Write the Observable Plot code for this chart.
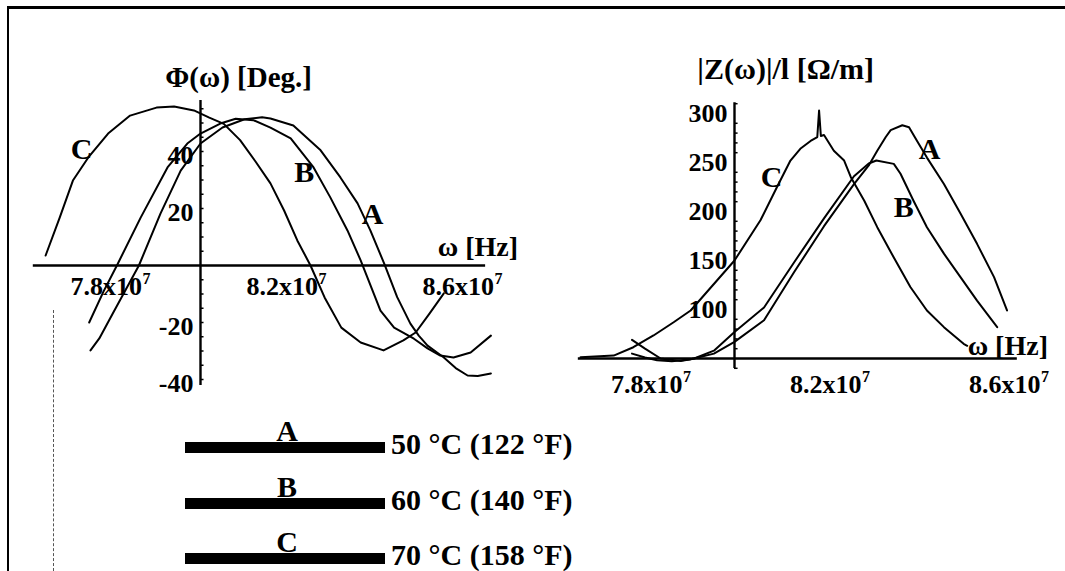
<!DOCTYPE html>
<html><head><meta charset="utf-8">
<script src="https://cdn.jsdelivr.net/npm/d3@7"></script>
<script src="https://cdn.jsdelivr.net/npm/@observablehq/plot@0.6"></script>
<style>
html,body{margin:0;padding:0;background:#fff;}
#fig{position:relative;width:1065px;height:571px;overflow:hidden;background:#fff;
  font-family:"Liberation Serif","Times New Roman",serif;font-weight:bold;color:#000;}
#fig svg{position:absolute;left:0;top:0;}
.rule{position:absolute;background:#000;}
.dots{position:absolute;border-left:1px dashed #555;}
.lg-bar{position:absolute;height:11px;background:#000;}
.lg-key{position:absolute;font-size:30px;line-height:1;text-align:center;width:40px;}
.lg-txt{position:absolute;font-size:30px;line-height:1;white-space:nowrap;}
</style></head>
<body><div id="fig">
<div class="rule" style="left:7px;top:6px;width:1058px;height:3px"></div>
<div class="rule" style="left:7px;top:6px;width:2px;height:565px"></div>
<div class="dots" style="left:53px;top:310px;height:261px"></div>
</div>
<script>
// ---------- Phase angle panel (left) ----------
const omegaPhiA = [7.750, 7.770, 7.800, 7.830, 7.860, 7.909, 7.955, 8.000, 8.050, 8.100, 8.140, 8.159, 8.211, 8.273, 8.318, 8.357, 8.386, 8.418, 8.447, 8.477, 8.496, 8.516, 8.553, 8.580, 8.607, 8.630, 8.660];
const phiA      = [-29.8, -25.6, -17.0, -8.5, 0.0, 18.2, 33.3, 42.8, 48.4, 51.3, 52.0, 51.6, 49.1, 40.4, 30.9, 21.8, 12.3, 0.5, -11.1, -20.4, -24.6, -28.1, -32.3, -36.0, -38.6, -38.8, -37.9];
const omegaPhiB = [7.747, 7.780, 7.810, 7.864, 7.925, 7.970, 8.000, 8.045, 8.080, 8.120, 8.159, 8.205, 8.257, 8.295, 8.334, 8.364, 8.409, 8.440, 8.485, 8.516, 8.545, 8.575, 8.614, 8.660];
const phiB      = [-20.0, -9.0, 0.0, 16.8, 34.4, 42.8, 46.3, 49.8, 51.5, 51.0, 48.4, 44.6, 34.4, 23.9, 12.3, 1.8, -15.8, -21.8, -25.7, -29.1, -31.6, -32.3, -30.5, -24.6];
const omegaPhiC = [7.648, 7.680, 7.710, 7.745, 7.790, 7.840, 7.900, 7.940, 7.985, 8.020, 8.053, 8.090, 8.125, 8.159, 8.190, 8.220, 8.250, 8.282, 8.320, 8.364, 8.416, 8.461, 8.489, 8.520, 8.553];
const phiC      = [3.5, 16.8, 29.8, 37.9, 46.3, 52.6, 55.4, 55.8, 54.4, 51.9, 49.7, 44.0, 36.5, 28.8, 19.3, 8.8, 0.0, -11.2, -21.8, -27.0, -29.8, -26.3, -23.5, -17.0, -9.8];
const phiTicks = [-40, -20, 20, 40];
const phiMinor = [-40, -35, -30, -25, -20, -15, -10, -5, 5, 10, 15, 20, 25, 30, 35, 40, 45, 50, 55];

// ---------- Impedance panel (right) ----------
const omegaZA = [7.771, 7.800, 7.827, 7.860, 7.900, 7.954, 8.000, 8.066, 8.133, 8.200, 8.267, 8.300, 8.319, 8.338, 8.349, 8.375, 8.390, 8.408, 8.430, 8.468, 8.505, 8.542, 8.580, 8.609];
const zA      = [55, 51, 48.3, 47.3, 49, 55, 67, 89, 138, 185, 228, 247, 262, 276, 283, 288, 286, 272, 255, 228, 198, 167, 133, 99];
const omegaZB = [7.771, 7.800, 7.835, 7.880, 7.910, 7.954, 8.000, 8.066, 8.133, 8.200, 8.267, 8.300, 8.317, 8.356, 8.371, 8.400, 8.430, 8.468, 8.505, 8.542, 8.587];
const zB      = [69, 60, 50, 47.5, 50, 58, 77, 102, 148, 193, 236, 249, 252, 248.6, 238.5, 211, 184, 157, 133, 109, 82];
const omegaZC = [7.656, 7.730, 7.774, 7.819, 7.864, 7.902, 7.950, 8.000, 8.058, 8.095, 8.125, 8.147, 8.170, 8.185, 8.189, 8.193, 8.200, 8.222, 8.245, 8.260, 8.290, 8.319, 8.356, 8.393, 8.430, 8.468, 8.512, 8.520];
const zC      = [51.4, 53, 61.5, 73.5, 87, 99, 124, 150, 191, 225, 252, 264, 272, 276, 303, 277, 278, 262, 252, 235, 211, 184, 153, 123, 99, 82, 65, 63];
const zTicks = [100, 150, 200, 250, 300];
const zMinor = [40, 60, 70, 80, 90, 110, 120, 130, 140, 160, 170, 180, 190, 210, 220, 230, 240, 260, 270, 280, 290, 310];

// ---------- shared ----------
const omegaTicks = [7.8, 8.2, 8.6];
const tickMantissa = ["7.8x10", "8.2x10", "8.6x10"];
const tickExponent = ["7", "7", "7"];
const curveNames = ["A", "B", "C"];
const legendLabels = ["50 °C (122 °F)", "60 °C (140 °F)", "70 °C (158 °F)"];

const W = 1065, H = 571;
const FONT = "Liberation Serif, Times New Roman, serif";
const txt = (o) => Object.assign({fontFamily: FONT, fontWeight: "bold", fill: "black"}, o);
const series = (xs, ys, name) => xs.map((x, i) => ({x, y: ys[i], name}));
const ticksTable = omegaTicks.map((x, i) => ({x, m: tickMantissa[i], e: tickExponent[i]}));

const phiData = [
  ...series(omegaPhiA, phiA, "A"),
  ...series(omegaPhiB, phiB, "B"),
  ...series(omegaPhiC, phiC, "C")
];
const zData = [
  ...series(omegaZA, zA, "A"),
  ...series(omegaZB, zB, "B"),
  ...series(omegaZC, zC, "C")
];

// x tick label = mantissa + raised exponent, centred on the tick
function xTickMarks(y0, dy, shift) {
  return [
    Plot.text(ticksTable, txt({x: "x", y: () => y0, text: "m", textAnchor: "start", lineAnchor: "bottom", dx: -40 + shift, dy, fontSize: 26})),
    Plot.text(ticksTable, txt({x: "x", y: () => y0, text: "e", textAnchor: "start", lineAnchor: "bottom", dx: -40 + shift + 72, dy: dy - 11, fontSize: 16}))
  ];
}

const left = Plot.plot({
  width: W, height: H,
  marginLeft: 24, marginRight: W - 508, marginTop: 94, marginBottom: H - 393.25,
  x: {domain: [7.6, 8.7], axis: null},
  y: {domain: [-45, 60], axis: null},
  style: {background: "transparent", overflow: "visible"},
  marks: [
    Plot.ruleY([0], {x1: 7.62, x2: 8.648, stroke: "black", strokeWidth: 2.4}),
    Plot.ruleX([8.0], {y1: -42.1, y2: 57.9, stroke: "black", strokeWidth: 2.4}),
    Plot.ruleY(phiMinor, {x1: 8.0, x2: 8.008, stroke: "black", strokeWidth: 1.5}),
    Plot.text(phiTicks, txt({x: 8.0, y: d => d, text: d => String(d), textAnchor: "end", dx: -7, dy: 4, fontSize: 26})),
    ...xTickMarks(0, 29, -2),
    Plot.line(phiData, {x: "x", y: "y", z: "name", stroke: "black", strokeWidth: 2}),
    Plot.text(["C"], txt({x: 7.7295, y: 40.7, text: d => d, fontSize: 30})),
    Plot.text(["B"], txt({x: 8.236, y: 32.6, text: d => d, fontSize: 30})),
    Plot.text(["A"], txt({x: 8.391, y: 17.9, text: d => d, fontSize: 30})),
    Plot.text(["\u03A6(\u03C9) [Deg.]"], txt({x: 7.92, y: 62.5, text: d => d, textAnchor: "start", lineAnchor: "bottom", fontSize: 29})),
    Plot.text(["\u03C9 [Hz]"], txt({x: 8.539, y: 3.2, text: d => d, textAnchor: "start", lineAnchor: "bottom", fontSize: 28}))
  ]
});

const right = Plot.plot({
  width: W, height: H,
  marginLeft: 555, marginRight: W - 1047.25, marginTop: 93.4, marginBottom: H - 377.6,
  x: {domain: [7.6, 8.7], axis: null},
  y: {domain: [30, 320], axis: null},
  style: {background: "transparent", overflow: "visible"},
  marks: [
    Plot.ruleY([50], {x1: 7.651, x2: 8.632, stroke: "black", strokeWidth: 2.4}),
    Plot.ruleX([8.0], {y1: 39.8, y2: 311, stroke: "black", strokeWidth: 2.4}),
    Plot.ruleY(zMinor, {x1: 8.0, x2: 8.008, stroke: "black", strokeWidth: 1.5}),
    Plot.text(zTicks, txt({x: 8.0, y: d => d, text: d => String(d), textAnchor: "end", dx: -7, fontSize: 26})),
    ...xTickMarks(50, 34, 6),
    Plot.line(zData, {x: "x", y: "y", z: "name", stroke: "black", strokeWidth: 2}),
    Plot.text(["C"], txt({x: 8.083, y: 234.7, text: d => d, fontSize: 30})),
    Plot.text(["B"], txt({x: 8.378, y: 204, text: d => d, fontSize: 30})),
    Plot.text(["A"], txt({x: 8.436, y: 263.3, text: d => d, fontSize: 30})),
    Plot.text(["|Z(\u03C9)|/l [\u03A9/m]"], txt({x: 7.917, y: 334.7, text: d => d, textAnchor: "start", lineAnchor: "bottom", fontSize: 30})),
    Plot.text(["\u03C9 [Hz]"], txt({x: 8.521, y: 54, text: d => d, textAnchor: "start", lineAnchor: "bottom", fontSize: 28}))
  ]
});

const fig = document.getElementById("fig");
fig.appendChild(left);
fig.appendChild(right);

// ---------- legend (below the panels) ----------
const barTops = [442, 498, 553];
curveNames.forEach((name, i) => {
  const bar = document.createElement("div");
  bar.className = "lg-bar";
  bar.style.left = "185px"; bar.style.width = "200px"; bar.style.top = barTops[i] + "px";
  fig.appendChild(bar);
  const key = document.createElement("div");
  key.className = "lg-key";
  key.textContent = name;
  key.style.left = "267px"; key.style.top = (barTops[i] - 26) + "px";
  fig.appendChild(key);
  const t = document.createElement("div");
  t.className = "lg-txt";
  t.textContent = legendLabels[i];
  t.style.left = "391px"; t.style.top = (barTops[i] - 13) + "px";
  fig.appendChild(t);
});
</script>
</body></html>
